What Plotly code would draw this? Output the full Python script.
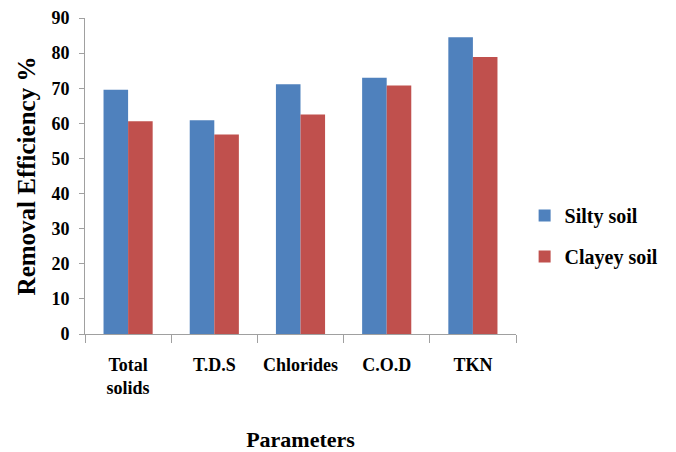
import plotly.graph_objects as go

categories = ["Total<br>solids", "T.D.S", "Chlorides", "C.O.D", "TKN"]
silty = [69.6, 60.9, 71.1, 73.0, 84.5]
clayey = [60.6, 56.8, 62.5, 70.8, 78.9]
y_ticks = [0, 10, 20, 30, 40, 50, 60, 70, 80, 90]

font_family = "Liberation Serif, Times New Roman, serif"

fig = go.Figure()
fig.add_trace(go.Bar(x=categories, y=silty, name="<b>Silty soil</b>", legendgroup="a",
                     marker=dict(color="#4F81BD", line=dict(width=0))))
fig.add_trace(go.Bar(x=categories, y=clayey, name="<b>Clayey soil</b>", legendgroup="b",
                     marker=dict(color="#C0504D", line=dict(width=0))))

fig.update_layout(
    width=676, height=452,
    margin=dict(l=85, r=160, t=18, b=118, autoexpand=False),
    paper_bgcolor="white", plot_bgcolor="white",
    barmode="group", bargap=0.43, bargroupgap=0,
    font=dict(family=font_family, color="black", size=18),
    showlegend=True,
    legend=dict(x=1.02, y=0.31, xanchor="left", yanchor="middle",
                font=dict(size=20, family=font_family, color="black"),
                traceorder="grouped", tracegroupgap=12, itemwidth=30),
    xaxis=dict(
        automargin=False, tickangle=0,
        showline=True, linecolor="#A0A0A0", linewidth=1,
        ticks="outside", tickson="boundaries", ticklen=8, tickcolor="#A0A0A0",
        tickfont=dict(size=18, family=font_family, weight="bold"),
        ticklabelstandoff=14,
        title=dict(text="Parameters", font=dict(size=22, family=font_family, weight="bold"), standoff=38),
    ),
    yaxis=dict(
        automargin=False,
        range=[0, 90], tickvals=y_ticks,
        showline=True, linecolor="#A0A0A0", linewidth=1,
        ticks="outside", ticklen=5, tickcolor="#A0A0A0",
        showgrid=False, zeroline=False,
        tickfont=dict(size=18, family=font_family, weight="bold"),
        ticklabelstandoff=6,
        title=dict(text="Removal Efficiency %", font=dict(size=25, family=font_family, weight="bold"), standoff=8),
    ),
)

fig.write_html("out.html")
